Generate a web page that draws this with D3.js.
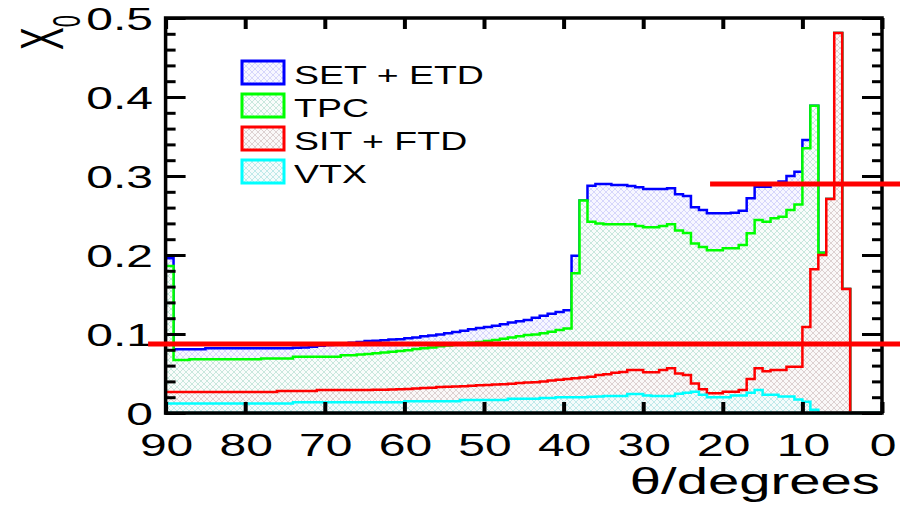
<!DOCTYPE html>
<html>
<head>
<meta charset="utf-8">
<script src="https://cdn.jsdelivr.net/npm/d3@7"></script>
<style>
  body { margin: 0; background: #fff; }
  text { font-family: "Liberation Sans", Arial, Helvetica, sans-serif; fill: #000; }
</style>
</head>
<body>
<div id="chart"></div>
<script>
// stacked X0 per 1 degree bin, index = lower bin edge in degrees (0..89)
// each array is the top of the stack as drawn (detector + everything below it)
const vtxTop = [0,0,0,0,0,0,0,0,0.004,0.0143,
  0.017,0.021,0.021,0.023,0.023,0.029,0.0257,0.022,0.022,0.0198,
  0.0198,0.0198,0.023,0.027,0.0257,0.0245,0.0215,0.0215,0.0215,0.022,
  0.024,0.024,0.0215,0.0215,0.0215,0.021,0.0205,0.020,0.0198,0.0198,
  0.0198,0.019,0.019,0.018,0.018,0.018,0.018,0.0165,0.0165,0.0165,
  0.0165,0.0165,0.0165,0.015,0.015,0.015,0.015,0.015,0.015,0.015,
  0.0135,0.0135,0.0135,0.0135,0.0135,0.0135,0.0135,0.0135,0.0135,0.0135,
  0.0135,0.0135,0.0135,0.0135,0.012,0.012,0.012,0.012,0.012,0.012,
  0.012,0.012,0.012,0.012,0.012,0.012,0.012,0.012,0.012,0.012];

const sitTop = [0,0,0,0,0.157,0.481,0.271,0.200,0.182,0.109,
  0.0586,0.0586,0.0544,0.0544,0.053,0.0565,0.043,0.029,0.027,0.027,
  0.025,0.025,0.030,0.0375,0.048,0.050,0.0565,0.0544,0.0515,0.0515,
  0.0544,0.0544,0.052,0.051,0.049,0.048,0.046,0.045,0.044,0.043,
  0.042,0.041,0.040,0.039,0.0385,0.038,0.037,0.0365,0.036,0.0355,
  0.035,0.0345,0.034,0.0335,0.0333,0.033,0.032,0.0315,0.031,0.0305,
  0.030,0.0298,0.0295,0.0293,0.029,0.029,0.029,0.029,0.029,0.029,
  0.029,0.0278,0.0278,0.0278,0.0278,0.0278,0.0265,0.0265,0.0265,0.0265,
  0.0265,0.0265,0.0265,0.0265,0.0265,0.0265,0.0265,0.0265,0.0265,0.0265];

const tpcTop = [0,0,0,0,0.157,0.481,0.271,0.203,0.389,0.335,
  0.264,0.257,0.2485,0.2464,0.242,0.2443,0.2274,0.2127,0.2084,0.2084,
  0.206,0.206,0.21,0.2147,0.228,0.231,0.2388,0.2367,0.235,0.235,
  0.2367,0.2388,0.2388,0.2388,0.2388,0.240,0.242,0.269,0.177,0.107,
  0.105,0.103,0.101,0.0995,0.0987,0.097,0.0955,0.094,0.0924,0.091,
  0.090,0.089,0.088,0.087,0.0855,0.0845,0.083,0.082,0.081,0.0795,
  0.0785,0.0776,0.0765,0.0755,0.0747,0.0742,0.073,0.073,0.0713,0.0713,
  0.0713,0.0713,0.0713,0.0713,0.069,0.069,0.069,0.069,0.068,0.068,
  0.068,0.068,0.068,0.068,0.068,0.068,0.068,0.067,0.067,0.186];

const setTop = [0,0,0,0,0.157,0.481,0.271,0.203,0.389,0.3456,
  0.3055,0.300,0.293,0.289,0.2865,0.2865,0.2717,0.256,0.2536,0.2527,
  0.2527,0.2527,0.257,0.2604,0.2747,0.277,0.2844,0.2835,0.2835,0.2835,
  0.2857,0.2873,0.2886,0.2886,0.29,0.29,0.2878,0.269,0.199,0.130,
  0.128,0.1255,0.123,0.1205,0.1177,0.116,0.1145,0.1125,0.1105,0.109,
  0.1075,0.106,0.104,0.1025,0.101,0.0995,0.098,0.097,0.0955,0.0945,
  0.0935,0.093,0.092,0.0915,0.091,0.090,0.089,0.088,0.087,0.086,
  0.085,0.084,0.083,0.0825,0.082,0.082,0.082,0.082,0.082,0.082,
  0.082,0.082,0.082,0.082,0.082,0.0806,0.0806,0.0806,0.0806,0.196];

const legendNames = ["SET + ETD", "TPC", "SIT + FTD", "VTX"];
const xTicks = [90, 80, 70, 60, 50, 40, 30, 20, 10, 0];
const yTicks = [0, 0.1, 0.2, 0.3, 0.4, 0.5];
const yLabels = ["0", "0.1", "0.2", "0.3", "0.4", "0.5"];
// the two red reference lines: level, theta start, theta end
const cutLines = [[0.0873, 92.2, -2.3], [0.29, 21.6, -2.3]];

const W = 900, H = 505;
const x = d3.scaleLinear().domain([90, 0]).range([165.6, 882]);
const y = d3.scaleLinear().domain([0, 0.5]).range([413, 18]);

const svg = d3.select("#chart").append("svg")
  .attr("width", W).attr("height", H);

// drawn from the tallest stack down, like the ROOT THStack
const series = [
  {name: legendNames[0], values: setTop, color: "#0000ff", pat: "hSet", bg: "#f7f7ff", ln: "#d6d6fb"},
  {name: legendNames[1], values: tpcTop, color: "#00ff00", pat: "hTpc", bg: "#f9fcfb", ln: "#c8e7dd"},
  {name: legendNames[2], values: sitTop, color: "#ff0000", pat: "hSit", bg: "#faf8f8", ln: "#ddd1d1"},
  {name: legendNames[3], values: vtxTop, color: "#00ffff", pat: "hVtx", bg: "#f5fbfb", ln: "#bfe9e9"}
];

// cross hatch fills
const defs = svg.append("defs");
series.forEach(s => {
  const p = defs.append("pattern").attr("id", s.pat)
    .attr("patternUnits", "userSpaceOnUse").attr("width", 6).attr("height", 6);
  p.append("rect").attr("width", 6).attr("height", 6).attr("fill", s.bg);
  p.append("path").attr("d", "M0,0L6,6M6,0L0,6")
    .attr("stroke", s.ln).attr("stroke-width", 1);
});

const thetaBins = d3.range(0, 90);
const area = d3.area().curve(d3.curveStepAfter)
  .x(d => x(d[0])).y0(y(0)).y1(d => y(d[1]));

series.forEach(s => {
  const pts = thetaBins.map(t => [t, s.values[t]]);
  pts.push([90, s.values[89]]);
  svg.append("path")
    .attr("d", area(pts))
    .attr("fill", "url(#" + s.pat + ")")
    .attr("stroke", s.color)
    .attr("stroke-width", 2.5)
    .attr("stroke-linejoin", "miter");
});

// legend
const leg = svg.append("g");
series.forEach((s, i) => {
  const base = 84 + i * 33;
  leg.append("rect")
    .attr("x", 242).attr("y", base - 23).attr("width", 42).attr("height", 23)
    .attr("fill", "url(#" + s.pat + ")").attr("stroke", s.color).attr("stroke-width", 3);
  leg.append("text")
    .attr("transform", "translate(294," + base + ") scale(1.5,1)")
    .attr("font-size", 25)
    .text(s.name);
});

// ticks, pointing inwards on all four sides
function tickAxis(axis, tr, width) {
  const g = svg.append("g").attr("transform", tr).call(axis);
  g.select(".domain").remove();
  g.selectAll("line").attr("stroke", "#000").attr("stroke-width", width);
  g.selectAll("text").remove();
}
const yMinor = d3.range(0, 0.501, 0.02);
tickAxis(d3.axisLeft(y).tickValues(yMinor).tickSize(-10), "translate(165.6,0)", 3);
tickAxis(d3.axisLeft(y).tickValues(yTicks).tickSize(-20), "translate(165.6,0)", 3);
tickAxis(d3.axisRight(y).tickValues(yMinor).tickSize(-10), "translate(882,0)", 3);
tickAxis(d3.axisRight(y).tickValues(yTicks).tickSize(-20), "translate(882,0)", 3);
tickAxis(d3.axisBottom(x).tickValues(xTicks).tickSize(-11), "translate(0,413)", 4);
tickAxis(d3.axisTop(x).tickValues(xTicks).tickSize(-11), "translate(0,18)", 4);

// frame
svg.append("rect")
  .attr("x", x(90)).attr("y", y(0.5))
  .attr("width", x(0) - x(90)).attr("height", y(0) - y(0.5))
  .attr("fill", "none").attr("stroke", "#000").attr("stroke-width", 3.5);

// tick labels (the picture is stretched sideways)
svg.selectAll(".ylab").data(yTicks).enter().append("text")
  .attr("class", "ylab")
  .attr("transform", d => "translate(153," + (y(d) + 11.5) + ") scale(1.5,1)")
  .attr("text-anchor", "end")
  .attr("font-size", 32)
  .text((d, i) => yLabels[i]);

svg.selectAll(".xlab").data(xTicks).enter().append("text")
  .attr("class", "xlab")
  .attr("transform", d => "translate(" + (x(d) + 1) + ",456) scale(1.5,1)")
  .attr("text-anchor", "middle")
  .attr("font-size", 32)
  .text(d => d);

// axis titles
svg.append("text")
  .attr("transform", "translate(880,494) scale(1.5,1)")
  .attr("text-anchor", "end")
  .attr("font-size", 37.5)
  .text("θ/degrees");

const yt = svg.append("text")
  .attr("transform", "translate(63,50) scale(1.8,1) rotate(-90)")
  .attr("font-size", 34);
yt.append("tspan").text("X");
yt.append("tspan").attr("font-size", 22).attr("dy", 9.4).text("0");

// red reference lines on top of everything
svg.selectAll(".cut").data(cutLines).enter().append("line")
  .attr("class", "cut")
  .attr("x1", d => x(d[1])).attr("x2", d => x(d[2]))
  .attr("y1", d => y(d[0])).attr("y2", d => y(d[0]))
  .attr("stroke", "#ff0000").attr("stroke-width", 5);
</script>
</body>
</html>
